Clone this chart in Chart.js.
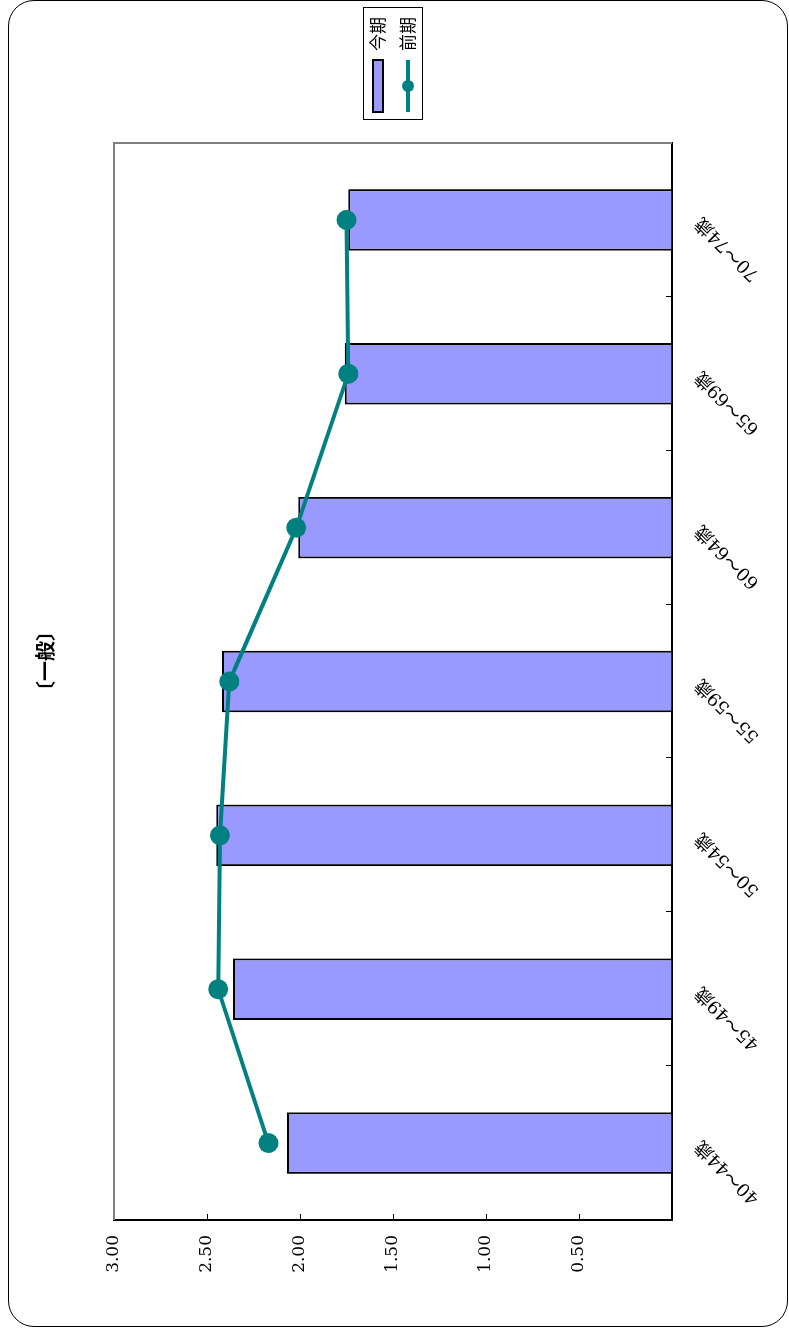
<!DOCTYPE html>
<html lang="ja">
  <head>
    <meta charset="utf-8" />
    <title>〔一般〕 今期・前期</title>
    <style>
      * {
        margin: 0;
        padding: 0;
      }
      body {
        width: 789px;
        height: 1330px;
        overflow: hidden;
        background: #fff;
      }
      /* the chart is laid out landscape and turned a quarter to the left */
      .chartTurn {
        position: absolute;
        left: 0;
        top: 0;
        width: 1330px;
        height: 789px;
        transform-origin: 0 0;
        transform: translate(0, 1330px) rotate(-90deg);
      }
      .chartFrame {
        position: absolute;
        left: 3px;
        top: 8px;
        width: 1325px;
        height: 778px;
        border: 1px solid #000;
        border-radius: 26px;
      }
      #myChart {
        position: absolute;
        left: 0;
        top: 0;
      }
    </style>
  </head>
  <body>
    <div class="chartTurn">
      <div class="chartFrame"></div>
      <canvas id="myChart" width="1330" height="789"></canvas>
    </div>

    <script src="https://cdn.jsdelivr.net/npm/chart.js"></script>

    <script>
      const ageGroups = ["40～44歳", "45～49歳", "50～54歳", "55～59歳", "60～64歳", "65～69歳", "70～74歳"];
      const thisTerm = [2.07, 2.36, 2.45, 2.42, 2.01, 1.76, 1.74];
      const lastTerm = [2.17, 2.44, 2.43, 2.38, 2.02, 1.74, 1.75];
      const seriesNames = ["今期", "前期"];
      const valueTicks = [0, 0.5, 1, 1.5, 2, 2.5, 3];
      const chartTitle = "〔一般〕";

      const serif = "'DejaVu Serif', 'Noto Sans CJK JP', serif";
      const sans = "'Noto Sans CJK JP', sans-serif";

      // gray frame on top/right plus short inward tick marks
      const plotFrame = {
        id: "plotFrame",
        beforeDatasetsDraw(chart) {
          const {
            ctx,
            chartArea: { top, bottom, left, right },
            scales: { x, y },
          } = chart;
          ctx.save();
          ctx.strokeStyle = "#808080";
          ctx.lineWidth = 2;
          ctx.beginPath();
          ctx.moveTo(left, top);
          ctx.lineTo(right, top);
          ctx.lineTo(right, bottom);
          ctx.stroke();

          ctx.strokeStyle = "#000";
          ctx.lineWidth = 1;
          ctx.beginPath();
          valueTicks.slice(1, -1).forEach((v) => {
            const yy = Math.round(y.getPixelForValue(v)) + 0.5;
            ctx.moveTo(left, yy);
            ctx.lineTo(left + 6, yy);
          });
          for (let i = 1; i < ageGroups.length; i++) {
            const xx = Math.round((x.getPixelForValue(i - 1) + x.getPixelForValue(i)) / 2) + 0.5;
            ctx.moveTo(xx, bottom);
            ctx.lineTo(xx, bottom - 6);
          }
          ctx.stroke();
          ctx.restore();
        },
      };

      // title and boxed legend
      const extras = {
        id: "extras",
        afterDraw(chart) {
          const { ctx, chartArea } = chart;
          ctx.save();
          ctx.fillStyle = "#000";
          ctx.font = "bold 20px " + sans;
          ctx.textAlign = "center";
          ctx.textBaseline = "middle";
          ctx.fillText(chartTitle, 669, 45);

          const bx = chartArea.right + 23;
          const by = 363;
          const bw = 112;
          const bh = 59;
          ctx.strokeStyle = "#000";
          ctx.lineWidth = 1;
          ctx.strokeRect(bx + 0.5, by + 0.5, bw, bh);

          const symX = bx + 8;
          const symW = 52;
          const row1 = by + 15;
          const row2 = by + 45;

          ctx.fillStyle = "#9999ff";
          ctx.fillRect(symX, row1 - 5, symW, 10);
          ctx.strokeStyle = "#000";
          ctx.lineWidth = 2;
          ctx.strokeRect(symX, row1 - 5, symW, 10);

          ctx.strokeStyle = "#008080";
          ctx.lineWidth = 4;
          ctx.beginPath();
          ctx.moveTo(symX, row2);
          ctx.lineTo(symX + symW, row2);
          ctx.stroke();
          ctx.fillStyle = "#008080";
          ctx.beginPath();
          ctx.arc(symX + symW / 2, row2, 6, 0, Math.PI * 2);
          ctx.fill();

          ctx.fillStyle = "#000";
          ctx.font = "17px " + sans;
          ctx.textAlign = "left";
          ctx.fillText(seriesNames[0], symX + symW + 9, row1);
          ctx.fillText(seriesNames[1], symX + symW + 9, row2);
          ctx.restore();
        },
      };

      const data = {
        labels: ageGroups,
        datasets: [
          {
            type: "line",
            label: seriesNames[1],
            data: lastTerm,
            borderColor: "#008080",
            backgroundColor: "#008080",
            borderWidth: 4,
            pointRadius: 10,
            pointBorderWidth: 0,
            pointBackgroundColor: "#008080",
            tension: 0,
            order: 0,
          },
          {
            type: "bar",
            label: seriesNames[0],
            data: thisTerm,
            backgroundColor: "#9999ff",
            borderColor: "#000",
            borderWidth: 2,
            barPercentage: 0.4,
            categoryPercentage: 1,
            order: 1,
          },
        ],
      };

      const config = {
        data: data,
        options: {
          responsive: false,
          animation: false,
          devicePixelRatio: 1,
          layout: {
            padding: { left: 0, right: 143, top: 114, bottom: 0 },
          },
          scales: {
            x: {
              grid: { drawOnChartArea: false, drawTicks: false },
              border: { color: "#000", width: 2 },
              ticks: {
                minRotation: 45,
                maxRotation: 45,
                autoSkip: false,
                padding: 19,
                color: "#000",
                font: { family: serif, size: 18 },
              },
              afterFit(scale) {
                scale.height = 117;
              },
            },
            y: {
              min: 0,
              max: 3,
              grid: { drawOnChartArea: false, drawTicks: false },
              border: { color: "#000", width: 2 },
              ticks: {
                stepSize: 0.5,
                padding: 15,
                color: "#000",
                font: { family: serif, size: 17 },
                callback: (v) => (v === 0 ? "" : v.toFixed(2)),
              },
              afterFit(scale) {
                scale.width = 110;
              },
            },
          },
          plugins: {
            legend: { display: false },
            tooltip: { enabled: false },
            title: { display: false },
          },
        },
        plugins: [plotFrame, extras],
      };

      const myChart = new Chart(document.getElementById("myChart"), config);
    </script>
  </body>
</html>
